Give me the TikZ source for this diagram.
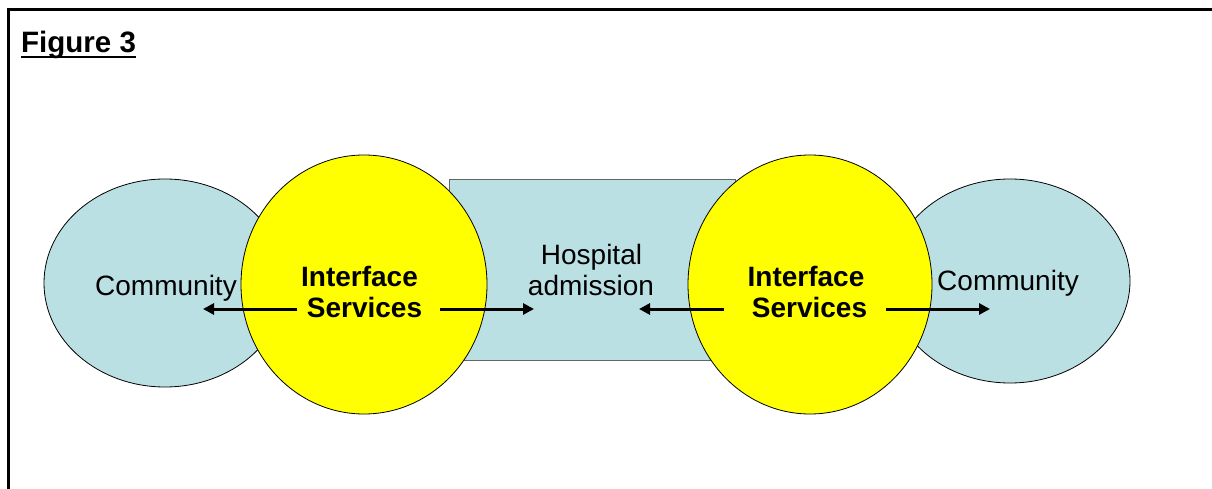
\documentclass[tikz,border=0pt]{standalone}
\usepackage{fontspec}
\setmainfont{Liberation Sans}
\usetikzlibrary{arrows.meta}
\definecolor{paleblue}{RGB}{187,224,227}
\definecolor{rectline}{RGB}{100,100,100}
\definecolor{ifyellow}{RGB}{255,255,0}
\tikzset{
  blob/.style={fill=paleblue, draw=black, line width=0.8pt},
  ifc/.style={fill=ifyellow, draw=black, line width=0.8pt},
  lbl/.style={inner sep=0pt, anchor=base, font=\fontsize{28}{31}\selectfont},
  blbl/.style={lbl, font=\fontsize{28}{31}\selectfont\bfseries},
  flow/.style={line width=3pt, -{Triangle[length=11pt,width=11pt]}}
}
\begin{document}
\begin{tikzpicture}[x=1pt,y=-1pt]
\useasboundingbox (0,0) rectangle (1212,489);
% frame
\draw[line width=3pt] (8.5,489) -- (8.5,9.5) -- (1212,9.5);
% title
\node[inner sep=0pt, anchor=base west, font=\fontsize{29.5}{32}\selectfont\bfseries] (title) at (21,53) {Figure 3};
\draw[line width=2.8pt] ([yshift=-4pt]title.base west) -- ([yshift=-4pt]title.base east);
% hospital rectangle
\draw[fill=paleblue, draw=rectline, line width=1pt] (449,180) rectangle (735,360);
% community ellipses
\draw[blob] (165,283) ellipse [x radius=121, y radius=104];
\draw[blob] (1010,281) ellipse [x radius=120, y radius=102];
% interface circles
\draw[ifc] (364,284.5) ellipse [x radius=123, y radius=129.5];
\draw[ifc] (810,284.5) ellipse [x radius=122, y radius=129.5];
% texts
\node[lbl] (comL) at (166,295) {Community};
\node[lbl] (comR) at (1008,290) {Community};
\node[lbl] (hos1) at (591.5,264) {Hospital};
\node[lbl] (hos2) at (591,295) {admission};
\node[blbl] (ifL1) at (359.5,286) {Interface};
\node[blbl] (ifL2) at (364.5,317) {Services};
\node[blbl] (ifR1) at (806,286) {Interface};
\node[blbl] (ifR2) at (809.5,317) {Services};
% arrow end points
\coordinate (aL1s) at (297,309); \coordinate (aL1e) at (203,309);
\coordinate (aL2s) at (440,309); \coordinate (aL2e) at (534,309);
\coordinate (aR1s) at (724,309); \coordinate (aR1e) at (639,309);
\coordinate (aR2s) at (886,309); \coordinate (aR2e) at (990,309);
\draw[flow] (aL1s) -- (aL1e);
\draw[flow] (aL2s) -- (aL2e);
\draw[flow] (aR1s) -- (aR1e);
\draw[flow] (aR2s) -- (aR2e);
\end{tikzpicture}
\end{document}
